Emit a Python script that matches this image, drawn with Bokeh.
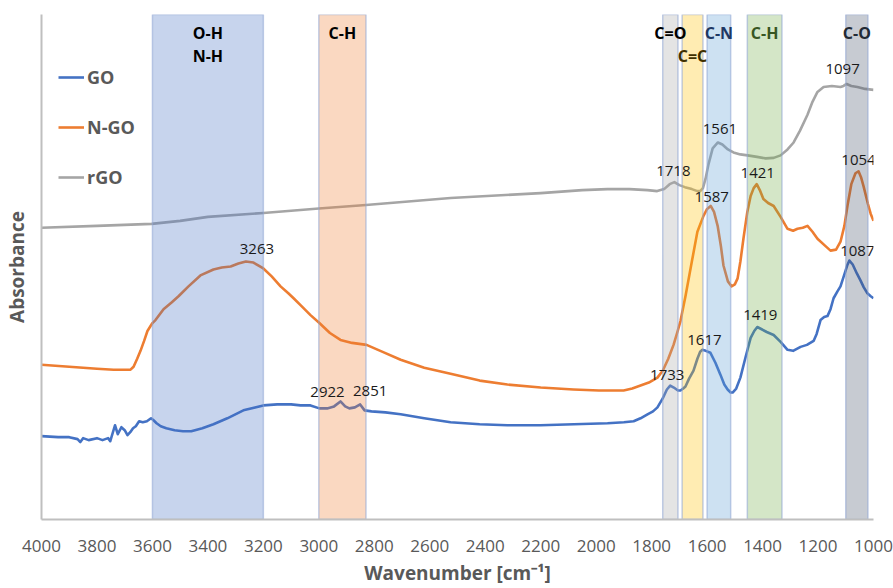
import numpy as np
from bokeh.plotting import figure
from bokeh.models import Range1d, FixedTicker, Legend, LegendItem
from bokeh.core.properties import value
from bokeh.embed import file_html
from bokeh.resources import INLINE

# ---------------- data ----------------
go_wn = [4000, 3940, 3900, 3870, 3860, 3850, 3830, 3800, 3780, 3760, 3752, 3735, 3725,
         3712, 3700, 3690, 3680, 3670, 3660, 3648, 3635, 3620, 3605, 3596, 3585, 3570,
         3550, 3520, 3490, 3460, 3420, 3380, 3330, 3272, 3230, 3200, 3150, 3100, 3066,
         3030, 2998, 2970, 2945, 2922, 2905, 2890, 2870, 2851, 2835, 2810, 2760, 2705,
         2620, 2525, 2420, 2320, 2201, 2080, 1959, 1900, 1865, 1840, 1815, 1795, 1779,
         1760, 1745, 1733, 1720, 1705, 1696, 1686, 1678, 1665, 1649, 1635, 1625, 1617,
         1605, 1588, 1570, 1552, 1538, 1526, 1515, 1508, 1495, 1480, 1460, 1443, 1430,
         1419, 1405, 1385, 1360, 1335, 1310, 1290, 1263, 1240, 1216, 1205, 1191, 1178,
         1166, 1155, 1144, 1130, 1119, 1105, 1095, 1087, 1075, 1060, 1047, 1035, 1022,
         1010, 1000]
go_abs = [0.84, 0.83, 0.83, 0.81, 0.78, 0.82, 0.80, 0.82, 0.80, 0.82, 0.79, 0.95, 0.86,
          0.93, 0.90, 0.85, 0.88, 0.92, 0.94, 0.99, 0.98, 0.99, 1.02, 1.00, 0.97, 0.94,
          0.92, 0.90, 0.89, 0.89, 0.92, 0.96, 1.02, 1.10, 1.13, 1.15, 1.16, 1.16, 1.15,
          1.15, 1.12, 1.12, 1.14, 1.19, 1.14, 1.12, 1.13, 1.16, 1.10, 1.09, 1.08, 1.06,
          1.02, 0.98, 0.96, 0.95, 0.95, 0.96, 0.97, 0.98, 0.99, 1.02, 1.06, 1.09, 1.13,
          1.22, 1.31, 1.35, 1.33, 1.30, 1.30, 1.32, 1.34, 1.42, 1.50, 1.62, 1.69, 1.71,
          1.70, 1.68, 1.58, 1.46, 1.36, 1.31, 1.28, 1.28, 1.32, 1.43, 1.65, 1.83, 1.90,
          1.94, 1.92, 1.89, 1.86, 1.79, 1.71, 1.70, 1.74, 1.76, 1.80, 1.87, 2.01, 2.04,
          2.05, 2.12, 2.23, 2.30, 2.35, 2.47, 2.56, 2.61, 2.57, 2.48, 2.41, 2.34, 2.28,
          2.25, 2.23]

ngo_wn = [4000, 3900, 3800, 3740, 3700, 3679, 3668, 3655, 3643, 3630, 3618, 3600, 3589,
          3560, 3530, 3506, 3470, 3427, 3380, 3350, 3318, 3290, 3263, 3236, 3200, 3170,
          3138, 3110, 3091, 3066, 3030, 2998, 2960, 2922, 2880, 2828, 2770, 2705, 2620,
          2525, 2420, 2320, 2200, 2082, 1990, 1901, 1870, 1840, 1810, 1779, 1760, 1740,
          1721, 1708, 1696, 1678, 1655, 1635, 1613, 1600, 1587, 1575, 1562, 1550, 1541,
          1525, 1512, 1500, 1490, 1480, 1469, 1455, 1443, 1432, 1421, 1410, 1397, 1380,
          1360, 1335, 1310, 1290, 1274, 1255, 1238, 1220, 1202, 1175, 1155, 1135, 1119,
          1105, 1094, 1080, 1065, 1054, 1045, 1036, 1020, 1010, 1000]
ngo_abs = [1.56, 1.54, 1.52, 1.51, 1.51, 1.51, 1.54, 1.62, 1.70, 1.80, 1.90, 1.98, 2.01,
           2.12, 2.19, 2.25, 2.35, 2.46, 2.52, 2.54, 2.55, 2.58, 2.60, 2.59, 2.53, 2.45,
           2.35, 2.28, 2.23, 2.16, 2.06, 1.98, 1.88, 1.81, 1.78, 1.76, 1.69, 1.61, 1.53,
           1.47, 1.40, 1.36, 1.33, 1.31, 1.30, 1.30, 1.32, 1.35, 1.38, 1.43, 1.50, 1.62,
           1.76, 1.88, 2.00, 2.25, 2.60, 2.90, 3.06, 3.13, 3.16, 3.10, 2.96, 2.75, 2.56,
           2.40, 2.35, 2.37, 2.43, 2.60, 2.83, 3.10, 3.26, 3.34, 3.38, 3.32, 3.23, 3.19,
           3.16, 3.05, 2.93, 2.91, 2.93, 2.94, 2.96, 2.90, 2.83, 2.76, 2.71, 2.72, 2.80,
           2.96, 3.16, 3.38, 3.49, 3.51, 3.45, 3.36, 3.18, 3.08, 3.01]

rgo_wn = [4000, 3800, 3603, 3500, 3400, 3200, 3000, 2830, 2525, 2200, 2050, 1960, 1880,
          1815, 1780, 1755, 1735, 1718, 1700, 1680, 1655, 1635, 1625, 1615, 1606, 1595,
          1580, 1561, 1545, 1525, 1505, 1480, 1454, 1420, 1389, 1360, 1335, 1310, 1288,
          1265, 1238, 1220, 1202, 1180, 1150, 1119, 1108, 1097, 1080, 1058, 1030, 1000]
rgo_abs = [2.94, 2.96, 2.98, 3.01, 3.05, 3.09, 3.135, 3.17, 3.24, 3.29, 3.32, 3.33, 3.33,
           3.32, 3.31, 3.33, 3.38, 3.40, 3.37, 3.35, 3.33, 3.31, 3.31, 3.34, 3.43, 3.58,
           3.74, 3.80, 3.78, 3.73, 3.70, 3.68, 3.67, 3.655, 3.64, 3.645, 3.67, 3.73, 3.80,
           3.92, 4.08, 4.21, 4.31, 4.36, 4.37, 4.36, 4.37, 4.39, 4.37, 4.36, 4.34, 4.33]

series_names = ["GO", "N-GO", "rGO"]
series_colors = ["#4472C4", "#ED7D31", "#A5A5A5"]

# peak annotations
go_peaks = [2922, 2851, 1733, 1617, 1419, 1087]
ngo_peaks = [3263, 1587, 1421, 1054]
rgo_peaks = [1718, 1561, 1097]

# absorption bands
band_lo = [3200, 2830, 1705, 1615, 1515, 1330, 1020]
band_hi = [3600, 3000, 1760, 1690, 1600, 1455, 1100]
band_labels = ["O-H\nN-H", "C-H", "C=O", "C=C", "C-N", "C-H", "C-O"]
band_colors = ["#4472C4", "#ED7D31", "#A5A5A5", "#FFC000", "#5B9BD5", "#70AD47", "#44546A"]
band_text_colors = ["#000000", "#000000", "#000000", "#3F3000", "#1F3864", "#375623", "#222A35"]
band_label_row = [0, 0, 0, 1, 0, 0, 0]

x_ticks = list(range(1000, 4001, 200))

# ---------------- styles ----------------
FONT = "Open Sans"
Y_TOP = 5.09
peak_dx = {"GO": [-13, 10, -3, 2, 3, 8], "N-GO": [11, 1, 1, 0], "rGO": [-1, 2, -4]}
peak_dy = {"GO": [-9, -13, -11, -10, -12, -10], "N-GO": [-13, -9, -11, -11], "rGO": [-11, -13, -15]}

p = figure(width=893, height=588, output_backend="svg", toolbar_location=None,
           x_range=Range1d(4000, 1000), y_range=Range1d(0, Y_TOP),
           min_border_left=41, min_border_right=20, min_border_top=14, min_border_bottom=65)
p.outline_line_color = None
p.grid.visible = False
p.background_fill_color = "white"

# curves
renderers = []
for wn, ab, name, col in zip([go_wn, ngo_wn, rgo_wn], [go_abs, ngo_abs, rgo_abs],
                             series_names, series_colors):
    r = p.line(wn, ab, line_color=col, line_width=2.6, line_join="round")
    renderers.append(r)

# bands (semi-transparent, over the curves)
p.quad(left=band_lo, right=band_hi, bottom=0, top=Y_TOP, fill_color=band_colors,
       fill_alpha=0.3, line_color="#8FA6D4", line_alpha=0.55, line_width=1.5)

# band labels
bx, by, bt, bc, boff = [], [], [], [], []
for lo, hi, lab, tc, row in zip(band_lo, band_hi, band_labels, band_text_colors, band_label_row):
    for i, part in enumerate(lab.split("\n")):
        bx.append((lo + hi) / 2)
        by.append(Y_TOP)
        bt.append(part)
        bc.append(tc)
        boff.append(18 + 23 * (row + i))
p.text(x=bx, y=by, text=bt, text_color=bc, y_offset=boff, text_align="center",
       text_baseline="middle", text_font=value(FONT), text_font_size="16px",
       text_font_style="bold")

# peak labels
px, py, pt, pdx, pdy = [], [], [], [], []
for name, wn, ab, peaks in zip(series_names, [go_wn, ngo_wn, rgo_wn],
                               [go_abs, ngo_abs, rgo_abs], [go_peaks, ngo_peaks, rgo_peaks]):
    xs = np.array(wn[::-1], dtype=float)
    ys = np.array(ab[::-1], dtype=float)
    for k, pk in enumerate(peaks):
        px.append(pk)
        py.append(float(np.interp(pk, xs, ys)))
        pt.append(str(pk))
        pdx.append(peak_dx[name][k])
        pdy.append(peak_dy[name][k])
p.text(x=px, y=py, text=pt, x_offset=pdx, y_offset=pdy, text_align="center",
       text_baseline="middle", text_font=value(FONT), text_font_size="15px",
       text_color="#1A1A1A")

# axes
p.xaxis.ticker = FixedTicker(ticks=x_ticks)
p.xaxis.axis_label = "Wavenumber [cm\u207b\u00b9]"
p.yaxis.axis_label = "Absorbance"
p.yaxis.ticker = FixedTicker(ticks=[])
for ax in [p.xaxis[0], p.yaxis[0]]:
    ax.axis_line_color = "#BFBFBF"
    ax.axis_line_width = 2
    ax.major_tick_line_color = None
    ax.minor_tick_line_color = None
    ax.major_tick_out = 0
    ax.major_tick_in = 0
    ax.minor_tick_out = 0
    ax.major_label_text_font = FONT
    ax.major_label_text_font_size = "17px"
    ax.major_label_text_color = "#595959"
    ax.axis_label_text_font = FONT
    ax.axis_label_text_font_size = "19px"
    ax.axis_label_text_font_style = "bold"
    ax.axis_label_text_color = "#595959"
p.xaxis.major_label_standoff = 20
p.xaxis.axis_label_standoff = 5
p.yaxis.major_label_standoff = 0
p.yaxis.axis_label_standoff = 12

legend = Legend(items=[LegendItem(label=n, renderers=[r]) for n, r in zip(series_names, renderers)],
                location=(17, 330), orientation="vertical",
                label_text_font=FONT, label_text_font_size="18px", label_text_font_style="bold",
                label_text_color="#595959", glyph_width=26, glyph_height=24, label_height=24,
                spacing=26, label_standoff=3, padding=0, margin=0,
                border_line_color=None, background_fill_alpha=0)
p.add_layout(legend)

open("out.html", "w").write(file_html(p, INLINE))
